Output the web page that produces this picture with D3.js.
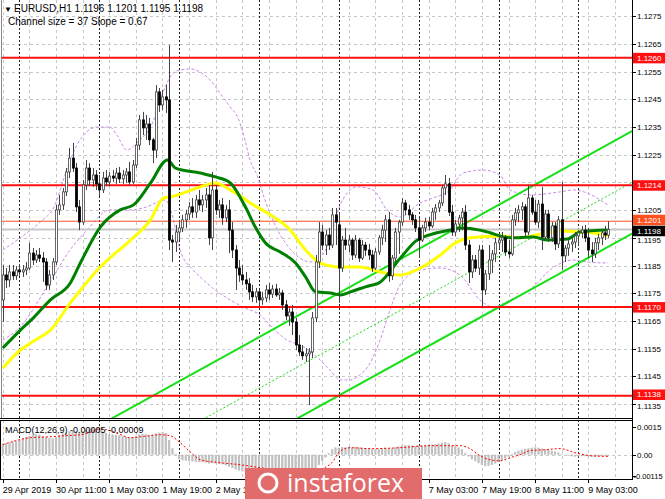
<!DOCTYPE html>
<html><head><meta charset="utf-8">
<script src="https://cdn.jsdelivr.net/npm/d3@7"></script>
<style>body{margin:0;background:#fff;}svg{display:block;font-family:"Liberation Sans",Arial,sans-serif;}</style>
</head><body><svg id="c" width="665" height="499"></svg>
<script>
// ---------- DATA ----------
const opens=[1.11726,1.11816,1.11798,1.11827,1.11813,1.11834,1.11827,1.11834,1.11841,1.11895,1.11870,1.11888,1.11877,1.11863,1.11780,1.11816,1.11863,1.12051,1.12069,1.12116,1.12188,1.12238,1.12202,1.12062,1.12007,1.12141,1.12202,1.12159,1.12177,1.12145,1.12123,1.12166,1.12152,1.12173,1.12166,1.12184,1.12163,1.12177,1.12188,1.12152,1.12213,1.12285,1.12376,1.12347,1.12361,1.12304,1.12267,1.12477,1.12430,1.12459,1.12448,1.11942,1.11935,1.11971,1.11986,1.12015,1.12036,1.12062,1.12043,1.12087,1.12069,1.12087,1.12105,1.11950,1.12123,1.12051,1.12069,1.12022,1.12051,1.11978,1.11906,1.11841,1.11816,1.11798,1.11784,1.11755,1.11737,1.11755,1.11726,1.11733,1.11762,1.11747,1.11765,1.11744,1.11751,1.11708,1.11668,1.11682,1.11646,1.11563,1.11538,1.11524,1.11531,1.11538,1.11661,1.11863,1.11971,1.11924,1.11960,1.11924,1.12033,1.11997,1.11841,1.11942,1.11924,1.11942,1.11888,1.11942,1.11877,1.11924,1.11906,1.11888,1.11841,1.11899,1.11950,1.11978,1.12015,1.11813,1.11877,1.11971,1.12007,1.12076,1.12051,1.12033,1.12015,1.11986,1.11942,1.11986,1.12007,1.11993,1.12043,1.12058,1.12076,1.12130,1.12145,1.12043,1.11971,1.12000,1.12022,1.12043,1.11924,1.11827,1.11870,1.11841,1.11906,1.11762,1.11820,1.11870,1.11892,1.11932,1.11942,1.11950,1.11899,1.11892,1.12015,1.12040,1.12051,1.12062,1.11971,1.12094,1.12043,1.12007,1.12072,1.11953,1.12036,1.11950,1.11993,1.11928,1.12015,1.11885,1.11913,1.11928,1.11935,1.11957,1.11968,1.11978,1.11950,1.11906,1.11892,1.11932,1.11950,1.11968,1.11960];
const highs=[1.11852,1.11841,1.11852,1.11852,1.11848,1.11856,1.11852,1.11863,1.11932,1.11913,1.11906,1.11913,1.11899,1.11877,1.11834,1.11877,1.12069,1.12105,1.12130,1.12202,1.12275,1.12293,1.12220,1.12087,1.12159,1.12231,1.12220,1.12202,1.12195,1.12177,1.12188,1.12195,1.12188,1.12195,1.12202,1.12206,1.12195,1.12202,1.12224,1.12231,1.12311,1.12394,1.12405,1.12394,1.12383,1.12311,1.12502,1.12491,1.12484,1.12502,1.12646,1.11960,1.11997,1.12007,1.12033,1.12051,1.12079,1.12094,1.12105,1.12123,1.12105,1.12130,1.12141,1.12188,1.12141,1.12087,1.12094,1.12069,1.12087,1.12007,1.11924,1.11870,1.11852,1.11827,1.11805,1.11780,1.11769,1.11762,1.11755,1.11780,1.11787,1.11780,1.11784,1.11769,1.11762,1.11726,1.11697,1.11708,1.11661,1.11599,1.11563,1.11552,1.11552,1.11682,1.11888,1.12007,1.11997,1.11978,1.11986,1.12058,1.12058,1.12043,1.11957,1.11986,1.11960,1.11950,1.11960,1.11950,1.11942,1.11935,1.11928,1.11906,1.11913,1.11960,1.11997,1.12033,1.12043,1.11888,1.11986,1.12015,1.12094,1.12087,1.12069,1.12043,1.12033,1.12022,1.11997,1.12022,1.12025,1.12058,1.12072,1.12087,1.12141,1.12177,1.12166,1.12069,1.12015,1.12033,1.12058,1.12069,1.11942,1.11888,1.11888,1.11924,1.11924,1.11834,1.11924,1.11906,1.11950,1.11957,1.11971,1.11960,1.11942,1.12033,1.12058,1.12069,1.12079,1.12072,1.12141,1.12105,1.12087,1.12087,1.12134,1.12051,1.12051,1.12007,1.12007,1.12029,1.12152,1.11924,1.11942,1.11950,1.11971,1.11978,1.11993,1.11997,1.11986,1.11935,1.11950,1.11964,1.11978,1.11993,1.12010];
const lows=[1.11646,1.11769,1.11773,1.11798,1.11798,1.11813,1.11809,1.11816,1.11834,1.11852,1.11859,1.11863,1.11791,1.11762,1.11762,1.11798,1.11852,1.12033,1.12051,1.12101,1.12166,1.12188,1.12043,1.11978,1.11997,1.12123,1.12137,1.12134,1.12123,1.12101,1.12112,1.12137,1.12137,1.12152,1.12145,1.12148,1.12145,1.12148,1.12141,1.12145,1.12202,1.12267,1.12321,1.12304,1.12285,1.12220,1.12238,1.12405,1.12412,1.12401,1.11906,1.11863,1.11899,1.11942,1.11971,1.11986,1.12015,1.12022,1.12022,1.12051,1.12043,1.12058,1.11924,1.11906,1.12033,1.12022,1.11997,1.12007,1.11895,1.11877,1.11762,1.11791,1.11780,1.11762,1.11726,1.11718,1.11715,1.11708,1.11708,1.11718,1.11726,1.11733,1.11737,1.11726,1.11690,1.11653,1.11632,1.11599,1.11545,1.11524,1.11509,1.11502,1.11346,1.11516,1.11646,1.11841,1.11906,1.11888,1.11906,1.11913,1.11924,1.11715,1.11827,1.11906,1.11899,1.11870,1.11877,1.11863,1.11870,1.11885,1.11870,1.11827,1.11834,1.11888,1.11924,1.11935,1.11791,1.11798,1.11863,1.11892,1.11993,1.12033,1.12015,1.11997,1.11971,1.11877,1.11935,1.11971,1.11978,1.11986,1.12015,1.12043,1.12065,1.12105,1.12029,1.11957,1.11957,1.11971,1.11978,1.11906,1.11787,1.11805,1.11827,1.11816,1.11700,1.11744,1.11798,1.11823,1.11863,1.11906,1.11899,1.11885,1.11877,1.11885,1.11993,1.12007,1.12015,1.11957,1.11960,1.12033,1.11997,1.11986,1.11906,1.11942,1.11935,1.11935,1.11906,1.11913,1.11834,1.11863,1.11885,1.11899,1.11913,1.11924,1.11950,1.11935,1.11877,1.11863,1.11877,1.11906,1.11924,1.11942,1.11950];
const closes=[1.11816,1.11798,1.11827,1.11813,1.11834,1.11827,1.11834,1.11841,1.11895,1.11870,1.11888,1.11877,1.11863,1.11780,1.11816,1.11863,1.12051,1.12069,1.12116,1.12188,1.12238,1.12202,1.12062,1.12007,1.12141,1.12202,1.12159,1.12177,1.12145,1.12123,1.12166,1.12152,1.12173,1.12166,1.12184,1.12163,1.12177,1.12188,1.12152,1.12213,1.12285,1.12376,1.12347,1.12361,1.12304,1.12267,1.12477,1.12430,1.12459,1.12448,1.11942,1.11935,1.11971,1.11986,1.12015,1.12036,1.12062,1.12043,1.12087,1.12069,1.12087,1.12105,1.11950,1.12123,1.12051,1.12069,1.12022,1.12051,1.11978,1.11906,1.11841,1.11816,1.11798,1.11784,1.11755,1.11737,1.11755,1.11726,1.11733,1.11762,1.11747,1.11765,1.11744,1.11751,1.11708,1.11668,1.11682,1.11646,1.11563,1.11538,1.11524,1.11531,1.11538,1.11661,1.11863,1.11971,1.11924,1.11960,1.11924,1.12033,1.12007,1.11841,1.11942,1.11924,1.11942,1.11888,1.11942,1.11877,1.11924,1.11906,1.11888,1.11841,1.11899,1.11950,1.11978,1.12015,1.11813,1.11877,1.11971,1.12007,1.12076,1.12051,1.12033,1.12015,1.11986,1.11942,1.11986,1.12007,1.11993,1.12043,1.12058,1.12076,1.12130,1.12145,1.12043,1.11971,1.12000,1.12022,1.12043,1.11924,1.11827,1.11870,1.11841,1.11906,1.11762,1.11820,1.11870,1.11892,1.11932,1.11942,1.11950,1.11899,1.11892,1.12015,1.12040,1.12051,1.12062,1.11971,1.12094,1.12043,1.12007,1.12072,1.11953,1.12036,1.11950,1.11993,1.11928,1.12015,1.11885,1.11913,1.11928,1.11935,1.11957,1.11968,1.11978,1.11950,1.11906,1.11892,1.11932,1.11950,1.11968,1.11960,1.11980];

const timeLabels=["29 Apr 2019","30 Apr 11:00","1 May 03:00","1 May 19:00","2 May 11:00","7 May 03:00","7 May 19:00","8 May 11:00","9 May 03:00"];
const timeLabelBars=[0,16,32,48,64,128,144,160,176];
const daySeparatorBars=[5,29,53,77,101,125,149,173];
const priceTicks=[1.1275,1.1265,1.1255,1.1245,1.1235,1.1225,1.1215,1.1205,1.1195,1.1185,1.1175,1.1165,1.1155,1.1145,1.1135];
const levelPrices=[1.1260,1.1214,1.1170,1.1138];
const markPrice=1.1201, bidPrice=1.1198;

const maGreenBars=[0,5.3,9.2,14.3,20.3,23.3,29.3,35.3,39.3,44.4,49.5,51.9,59.4,63.9,68.4,72.9,75.9,78.9,83.4,88,91,94,98.5,101.5,104.5,109,113.5,119.5,124.6,134.5,138.4,144.5,152.6,159.5,163.7,169.7,173.6,181.7];
const maGreenValues=[1.11552,1.11617,1.11661,1.11726,1.11787,1.11859,1.11989,1.12051,1.12069,1.12148,1.12231,1.12202,1.12184,1.12170,1.12148,1.12062,1.11989,1.11932,1.11899,1.11859,1.11809,1.11755,1.11751,1.11744,1.11755,1.11773,1.11791,1.11877,1.11942,1.11978,1.11986,1.11975,1.11950,1.11953,1.11942,1.11946,1.11971,1.11978];
const maYellowBars=[0,5.3,9.8,14.3,20.3,29.3,38.4,44.4,48.3,50.4,59.4,63.9,68.4,74.4,80.4,86.4,91,95.5,101.5,107.5,113.5,119.5,125.5,131.5,136,140.5,149.6,155.6,161.6,167.6,173.6,179.6,181.7];
const maYellowValues=[1.11480,1.11545,1.11581,1.11617,1.11715,1.11845,1.11942,1.12015,1.12094,1.12098,1.12134,1.12148,1.12123,1.12076,1.12033,1.11978,1.11906,1.11859,1.11845,1.11845,1.11827,1.11816,1.11841,1.11888,1.11932,1.11950,1.11957,1.11950,1.11964,1.11975,1.11971,1.11964,1.11957];

const bandUpperBars=[0,5.2,11.2,15.7,18.7,22.3,28.3,32.2,34.3,37.3,40.3,45.1,48.2,51.2,53.3,56.3,59.3,62.3,65.3,68.3,70.7,72.8,74.3,76.4,78.8,81.8,85.4,89.3,92.3,95.3,98.3,101.4,106.5,111.3,115.5,119.4,125.4,129.3,134.4,138.3,144.3,149.4,152.4,158.5,167.5,171.4,175.6,179.5,181.9];
const bandUpperValues=[1.11906,1.11950,1.12007,1.12069,1.12177,1.12285,1.12350,1.12350,1.12321,1.12267,1.12293,1.12368,1.12477,1.12545,1.12556,1.12560,1.12549,1.12520,1.12473,1.12423,1.12383,1.12303,1.12231,1.12177,1.12087,1.11997,1.11924,1.11877,1.11863,1.11877,1.11942,1.12069,1.12134,1.12123,1.12051,1.12025,1.12076,1.12094,1.12123,1.12184,1.12195,1.12177,1.12123,1.12105,1.12116,1.12123,1.12112,1.12087,1.12069];
const bandLowerBars=[0,5.2,13.3,20.2,25.3,32.2,39.1,43.3,48.8,50.9,53.3,57.2,59.3,63.8,68.3,72.8,77.3,81.8,85.4,89.3,94.4,98.3,101.4,104.4,106.5,110.4,113.4,116.4,119.4,125.4,131.4,137.4,143.4,147.3,152.5,159.4,164.5,171.4,175.6,181.9];
const bandLowerValues=[1.11581,1.11628,1.11773,1.11906,1.11978,1.12051,1.12051,1.12062,1.12087,1.12033,1.11906,1.11834,1.11809,1.11762,1.11726,1.11697,1.11672,1.11617,1.11581,1.11563,1.11520,1.11473,1.11437,1.11437,1.11448,1.11498,1.11581,1.11690,1.11780,1.11834,1.11841,1.11816,1.11726,1.11700,1.11726,1.11773,1.11834,1.11870,1.11863,1.11859];

// channel (middle line anchors) and half width
const channelMidBars=[98.5,182];
const channelMidValues=[1.11549,1.12103];
const channelHalf=0.00185;

const macdMain=[0.00060,0.00062,0.00066,0.00070,0.00075,0.00080,0.00088,0.00095,0.00102,0.00108,0.00110,0.00108,0.00100,0.00095,0.00090,0.00088,0.00095,0.00105,0.00115,0.00122,0.00128,0.00130,0.00128,0.00125,0.00128,0.00135,0.00142,0.00145,0.00140,0.00132,0.00125,0.00118,0.00112,0.00110,0.00108,0.00105,0.00100,0.00096,0.00092,0.00095,0.00102,0.00110,0.00112,0.00110,0.00106,0.00108,0.00115,0.00120,0.00122,0.00118,0.00080,0.00035,0.00005,-0.00025,-0.00030,-0.00032,-0.00035,-0.00036,-0.00038,-0.00040,-0.00040,-0.00042,-0.00048,-0.00045,-0.00047,-0.00050,-0.00052,-0.00058,-0.00065,-0.00072,-0.00080,-0.00086,-0.00090,-0.00094,-0.00098,-0.00100,-0.00103,-0.00105,-0.00106,-0.00108,-0.00108,-0.00108,-0.00110,-0.00112,-0.00115,-0.00118,-0.00120,-0.00125,-0.00130,-0.00135,-0.00138,-0.00140,-0.00142,-0.00125,-0.00090,-0.00055,-0.00035,-0.00015,0.00008,0.00030,0.00040,0.00038,0.00042,0.00040,0.00042,0.00040,0.00042,0.00040,0.00038,0.00036,0.00034,0.00030,0.00030,0.00032,0.00035,0.00038,0.00035,0.00035,0.00040,0.00045,0.00050,0.00052,0.00052,0.00050,0.00048,0.00050,0.00050,0.00052,0.00055,0.00055,0.00058,0.00060,0.00065,0.00068,0.00062,0.00050,0.00045,0.00040,0.00030,0.00010,-0.00010,-0.00025,-0.00035,-0.00045,-0.00055,-0.00062,-0.00060,-0.00055,-0.00048,-0.00040,-0.00030,-0.00020,-0.00010,0.00005,0.00015,0.00022,0.00028,0.00032,0.00035,0.00038,0.00040,0.00038,0.00034,0.00030,0.00028,0.00022,0.00018,0.00012,0.00005,0.00000,-0.00005,-0.00008,-0.00010,-0.00010,-0.00008,-0.00008,-0.00010,-0.00012,-0.00012,-0.00010,-0.00008,-0.00006,-0.00005];
const macdSignalBars=[0,3.7,8.2,14.2,18.7,23.2,26.2,29.2,32.2,35.2,38.2,42.7,47.3,50.3,53.3,56.3,59.3,65.3,71.3,77.3,83.3,89.3,93.8,96.8,98.9,101.4,104.4,110.4,119.4,128.4,134.5,137.4,140.4,143.4,146.4,149.4,152.5,155.4,158.5,163,167.5,172,176.6,182];
const macdSignalValues=[0.00055,0.00075,0.00092,0.00097,0.00103,0.00108,0.00120,0.00140,0.00130,0.00110,0.00092,0.00100,0.00108,0.00103,0.00065,0.00016,-0.00027,-0.00043,-0.00054,-0.00070,-0.00085,-0.00100,-0.00095,-0.00070,-0.00043,0.00020,0.00038,0.00033,0.00038,0.00049,0.00049,0.00049,0.00033,-0.00005,-0.00027,-0.00033,-0.00016,0.00000,0.00022,0.00027,0.00033,0.00011,-0.00005,-0.00009];
const macdTicks=[0.0015,0,-0.00115];
const macdTickLabels=["0.0015","0.00","-0.00115"];

// ---------- DRAW ----------
const svg=d3.select("#c");
const W=665,H=499, plotR=632, mainTop=0, mainBot=418, macdTop=420, macdBot=479;
const x=d3.scaleLinear().domain([0,182]).range([2.8,2.8+182*3.327]);
const y=d3.scaleLinear().domain([1.1135,1.1265]).range([404,44]);
const ym=d3.scaleLinear().domain([-0.00115,0.0015]).range([476,427]);
const bars=d3.range(opens.length);

const defs=svg.append("defs");
defs.append("clipPath").attr("id","cm").append("rect").attr("x",1).attr("y",mainTop).attr("width",plotR-1).attr("height",mainBot-mainTop);
defs.append("clipPath").attr("id","cd").append("rect").attr("x",1).attr("y",macdTop).attr("width",plotR-1).attr("height",macdBot-macdTop);

const gm=svg.append("g").attr("clip-path","url(#cm)");
const gd=svg.append("g").attr("clip-path","url(#cd)");

// grid: horizontal
gm.selectAll(".hg").data(priceTicks).join("line")
 .attr("x1",0).attr("x2",plotR).attr("y1",d=>Math.round(y(d))+0.5).attr("y2",d=>Math.round(y(d))+0.5)
 .attr("stroke","#c8c8c8").attr("stroke-dasharray","3,3");
// vertical grid every 8 bars + day separators
const vg=d3.range(0,190,8);
[gm,gd].forEach(g=>{
 g.selectAll(".vg").data(vg).join("line")
  .attr("x1",d=>Math.round(x(d))+0.5).attr("x2",d=>Math.round(x(d))+0.5).attr("y1",0).attr("y2",H)
  .attr("stroke","#c8c8c8").attr("stroke-dasharray","3,3");
 g.selectAll(".ds").data(daySeparatorBars).join("line")
  .attr("x1",d=>Math.round(x(d))+0.5).attr("x2",d=>Math.round(x(d))+0.5).attr("y1",0).attr("y2",H)
  .attr("stroke","#222").attr("stroke-dasharray","2,2");
});

// bands
const lineXY=d3.line().x(d=>x(d[0])).y(d=>y(d[1])).curve(d3.curveMonotoneX);
const zip=(a,b)=>a.map((v,i)=>[v,b[i]]);
[[bandUpperBars,bandUpperValues],[bandLowerBars,bandLowerValues]].forEach(([b,v])=>{
 gm.append("path").attr("d",lineXY(zip(b,v))).attr("fill","none").attr("stroke","#c98be6").attr("stroke-width",1).attr("stroke-dasharray","3,2");
});

// channel
const slope=(channelMidValues[1]-channelMidValues[0])/(channelMidBars[1]-channelMidBars[0]);
const chAt=(b,off)=>channelMidValues[0]+slope*(b-channelMidBars[0])+off;
const chB=[-60,192];
[channelHalf,-channelHalf].forEach(off=>{
 gm.append("line").attr("x1",x(chB[0])).attr("y1",y(chAt(chB[0],off))).attr("x2",x(chB[1])).attr("y2",y(chAt(chB[1],off)))
  .attr("stroke","#16e016").attr("stroke-width",2);
});
gm.append("line").attr("x1",x(chB[0])).attr("y1",y(chAt(chB[0],0))).attr("x2",x(chB[1])).attr("y2",y(chAt(chB[1],0)))
  .attr("stroke","#16e016").attr("stroke-width",1).attr("stroke-dasharray","2,2");

// horizontal levels
gm.selectAll(".lv").data(levelPrices).join("line")
 .attr("x1",0).attr("x2",plotR).attr("y1",d=>y(d)).attr("y2",d=>y(d)).attr("stroke","#ff1010").attr("stroke-width",2);
gm.append("line").attr("x1",0).attr("x2",plotR).attr("y1",y(markPrice)).attr("y2",y(markPrice)).attr("stroke","#ff5020").attr("stroke-width",1);
gm.append("line").attr("x1",0).attr("x2",plotR).attr("y1",y(bidPrice)).attr("y2",y(bidPrice)).attr("stroke","#c8c8c8").attr("stroke-width",2);

// moving averages
gm.append("path").attr("d",lineXY(zip(maYellowBars,maYellowValues))).attr("fill","none").attr("stroke","#ffff00").attr("stroke-width",3);
gm.append("path").attr("d",lineXY(zip(maGreenBars,maGreenValues))).attr("fill","none").attr("stroke","#008000").attr("stroke-width",3);

// candles
const cg=gm.append("g");
cg.selectAll(".wk").data(bars).join("line")
 .attr("x1",i=>Math.round(x(i))+0.5).attr("x2",i=>Math.round(x(i))+0.5)
 .attr("y1",i=>y(highs[i])).attr("y2",i=>y(lows[i])).attr("stroke","#444").attr("stroke-width",1);
cg.selectAll(".bd").data(bars).join("rect")
 .attr("x",i=>Math.round(x(i))-0.5).attr("width",2)
 .attr("y",i=>y(Math.max(opens[i],closes[i])))
 .attr("height",i=>Math.max(1,Math.abs(y(opens[i])-y(closes[i]))))
 .attr("fill",i=>closes[i]>=opens[i]?"#fff":"#000")
 .attr("stroke",i=>closes[i]>=opens[i]?"#444":"#000").attr("stroke-width",0.8);

// MACD
gd.append("line").attr("x1",0).attr("x2",plotR).attr("y1",Math.round(ym(0))+0.5).attr("y2",Math.round(ym(0))+0.5).attr("stroke","#c8c8c8").attr("stroke-dasharray","3,3");
gd.selectAll(".mh").data(bars).join("rect")
 .attr("x",i=>x(i)-1.1).attr("width",2.2)
 .attr("y",i=>Math.min(ym(0),ym(macdMain[i]))).attr("height",i=>Math.abs(ym(macdMain[i])-ym(0)))
 .attr("fill","#c0c0c0");
gd.append("path").attr("d",d3.line().x(d=>x(d[0])).y(d=>ym(d[1])).curve(d3.curveMonotoneX)(zip(macdSignalBars,macdSignalValues)))
 .attr("fill","none").attr("stroke","#ff0000").attr("stroke-width",1).attr("stroke-dasharray","2,2");
svg.append("text").attr("x",5).attr("y",433).attr("font-size",9).attr("fill","#000").text("MACD(12,26,9) -0.00005 -0.00009");

// frames
svg.append("line").attr("x1",1.5).attr("x2",1.5).attr("y1",0).attr("y2",mainBot).attr("stroke","#888");
svg.append("line").attr("x1",0).attr("x2",plotR+1).attr("y1",mainBot+0.5).attr("y2",mainBot+0.5).attr("stroke","#000");
svg.append("rect").attr("x",0.5).attr("y",macdTop+0.5).attr("width",plotR).attr("height",macdBot-macdTop).attr("fill","none").attr("stroke","#000");
svg.append("line").attr("x1",plotR+0.5).attr("x2",plotR+0.5).attr("y1",0).attr("y2",macdBot).attr("stroke","#000");

// price axis
const pa=svg.append("g");
const FS=8;
const tagPrices=levelPrices.concat([markPrice,bidPrice]);
// tag vertical nudges (label boxes packed as on the terminal's scale)
const tagShift=new Map([[markPrice,-1.5],[bidPrice,1.2],[1.1138,-1.2]]);
const tickShift=new Map([[1.1195,1.8],[1.1135,1.8]]);
priceTicks.forEach(p=>{
 pa.append("line").attr("x1",plotR).attr("x2",plotR+4).attr("y1",Math.round(y(p))+0.5).attr("y2",Math.round(y(p))+0.5).attr("stroke","#000");
 const hidden=tagPrices.some(t=>Math.abs(y(t)-y(p))<7);
 if(!hidden) pa.append("text").attr("x",plotR+5).attr("y",y(p)+3+(tickShift.get(p)||0)).attr("font-size",FS).attr("fill","#000").text(p.toFixed(4));
});
const tag=(p,bg)=>{
 const yy=y(p)+(tagShift.get(p)||0);
 pa.append("rect").attr("x",plotR+1).attr("y",yy-5).attr("width",W-plotR-1).attr("height",10.5).attr("fill",bg);
 pa.append("text").attr("x",plotR+5).attr("y",yy+3).attr("font-size",FS).attr("fill","#fff").text(p.toFixed(4));
};
levelPrices.forEach(p=>tag(p,"#ff1010"));
tag(markPrice,"#ff5020");
tag(bidPrice,"#000");
// macd axis
macdTicks.forEach((v,i)=>{
 pa.append("line").attr("x1",plotR).attr("x2",plotR+4).attr("y1",Math.round(ym(v))+0.5).attr("y2",Math.round(ym(v))+0.5).attr("stroke","#000");
 pa.append("text").attr("x",plotR+(i===2?1.5:5)).attr("y",ym(v)+3).attr("font-size",i===2?7.5:FS).attr("fill","#000").text(macdTickLabels[i]);
});

// time axis
timeLabelBars.forEach((b,i)=>{
 svg.append("line").attr("x1",Math.round(x(b))+0.5).attr("x2",Math.round(x(b))+0.5).attr("y1",macdBot).attr("y2",macdBot+4).attr("stroke","#000");
 svg.append("text").attr("x",x(b)).attr("y",493).attr("font-size",9).attr("fill","#000").text(timeLabels[i]);
});

// header
svg.append("text").attr("x",4).attr("y",12).attr("font-size",8).attr("fill","#000").text("▼");
svg.append("text").attr("x",14).attr("y",12).attr("font-size",10).attr("fill","#000").text("EURUSD,H1  1.1196 1.1201 1.1195 1.1198");
svg.append("text").attr("x",8).attr("y",25).attr("font-size",10).attr("fill","#000").text("Channel size = 37 Slope = 0.67");

// watermark
const wm=svg.append("g");
wm.append("rect").attr("x",245).attr("y",468).attr("width",177).attr("height",31).attr("fill","#e26b6b");
wm.append("circle").attr("cx",268).attr("cy",483).attr("r",9).attr("fill","none").attr("stroke","#fff").attr("stroke-width",3);
wm.append("text").attr("x",287).attr("y",492).attr("font-size",25).attr("font-family","Open Sans, sans-serif").attr("fill","#fff").text("instaforex");
</script></body></html>
